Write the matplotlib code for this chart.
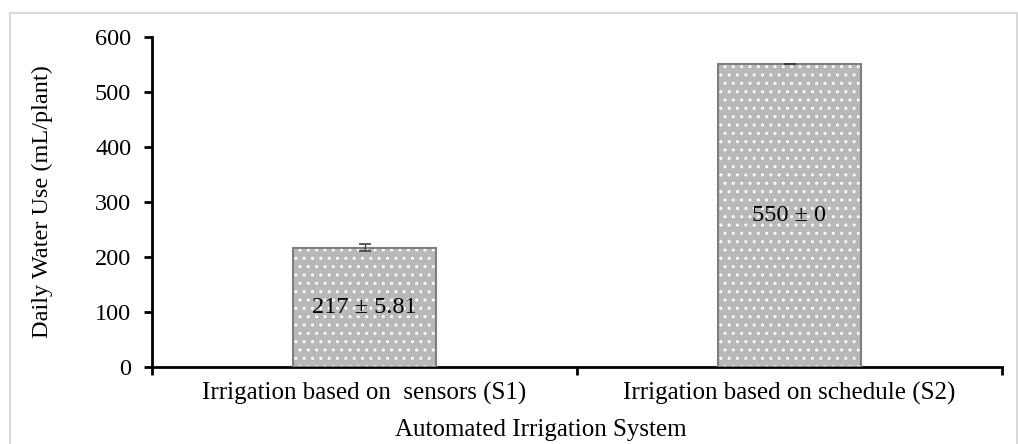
import matplotlib
matplotlib.use("Agg")
import matplotlib.pyplot as plt
from matplotlib.patches import Rectangle

# Data
categories = ["Irrigation based on  sensors (S1)", "Irrigation based on schedule (S2)"]
water_use = [217, 550]
errors = [5.81, 0]
bar_labels = ["217 \u00b1 5.81", "550 \u00b1 0"]

plt.rcParams['font.family'] = ['Liberation Serif', 'DejaVu Serif']

W, H = 1018, 444
fig = plt.figure(figsize=(W / 100, H / 100), dpi=100)
ax = fig.add_axes([152 / W, 1 - 367 / H, 850 / W, 330 / H])

# light grey frame around the chart area
fig.patches.append(Rectangle((10 / W, -0.05), 1006.5 / W, 1.05 - 13.5 / H,
                             transform=fig.transFigure, fill=False,
                             edgecolor='#d9d9d9', linewidth=1.5))

x = list(range(len(categories)))
width = 0.336

# dotted fill: grey face with white dots, then grey outline on top
ax.bar(x, water_use, width=width, color='#b8b8b8', edgecolor='white',
       hatch='..', linewidth=0, zorder=2)
ax.bar(x, water_use, width=width, color='none', edgecolor='#7f7f7f',
       linewidth=1.5, zorder=3)
ax.errorbar(x, water_use, yerr=errors, fmt='none', ecolor='#404040',
            elinewidth=1, capsize=4, capthick=1.2, zorder=4)

for xi, val, lab in zip(x, water_use, bar_labels):
    ax.text(xi, val / 2, lab, ha='center', va='center', fontsize=17.5, zorder=5)

ax.set_xlim(-0.5, 1.5)
ax.set_ylim(0, 600)
ax.set_yticks(range(0, 601, 100))
ax.set_xticks(x)
ax.set_xticklabels(categories)
ax.set_xticks([-0.5, 0.5, 1.5], minor=True)
ax.tick_params(axis='x', which='major', length=0, pad=11, labelsize=18)
ax.tick_params(axis='x', which='minor', length=6, width=2, direction='out')
ax.tick_params(axis='y', length=6, width=2, direction='out', labelsize=17.5, pad=9)

for side in ['top', 'right']:
    ax.spines[side].set_visible(False)
for side in ['left', 'bottom']:
    ax.spines[side].set_linewidth(2)
    ax.spines[side].set_color('black')

fig.text(541 / W, 1 - 430 / H, "Automated Irrigation System",
         ha='center', va='center', fontsize=18)
fig.text(42 / W, 1 - 202 / H, "Daily Water Use (mL/plant)",
         ha='center', va='center', rotation=90, fontsize=17.5)

fig.savefig("out.png", dpi=100)
